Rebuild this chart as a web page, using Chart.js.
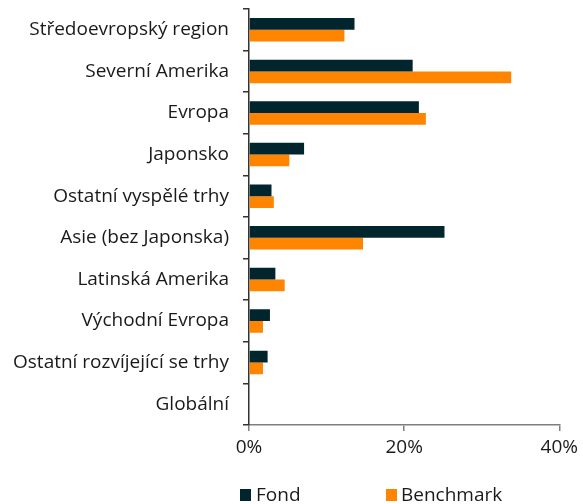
<!DOCTYPE html>
<html>
<head>
<meta charset="utf-8">
<script src="https://cdn.jsdelivr.net/npm/chart.js@4/dist/chart.umd.min.js"></script>
<style>
  html, body { margin: 0; padding: 0; background: #fff; }
  #wrap { position: relative; width: 583px; height: 504px; }
  #legend { position: absolute; left: 0; top: 0; width: 583px; height: 504px; pointer-events: none;
            font-family: "Open Sans", sans-serif; font-size: 19px; color: #1a1a1a; }
  .box { position: absolute; width: 11px; height: 12px; }
  .lbl { position: absolute; line-height: 20px; }
</style>
</head>
<body>
<div id="wrap">
  <canvas id="c" width="583" height="504"></canvas>
  <div id="legend"></div>
</div>
<script>
const categories = [
  "Středoevropský region",
  "Severní Amerika",
  "Evropa",
  "Japonsko",
  "Ostatní vyspělé trhy",
  "Asie (bez Japonska)",
  "Latinská Amerika",
  "Východní Evropa",
  "Ostatní rozvíjející se trhy",
  "Globální"
];
const fondValues = [13.6, 21.1, 21.9, 7.1, 2.9, 25.2, 3.4, 2.7, 2.4, 0];
const benchmarkValues = [12.3, 33.8, 22.8, 5.2, 3.2, 14.7, 4.6, 1.8, 1.8, 0];
const seriesNames = ["Fond", "Benchmark"];
const seriesColors = ["#00252d", "#ff8400"];
const xTicks = [0, 20, 40];

const FONT = "Open Sans";
const FSIZE = 19;

const chart = new Chart(document.getElementById("c"), {
  type: "bar",
  data: {
    labels: categories,
    datasets: [
      { label: seriesNames[0], data: fondValues, backgroundColor: seriesColors[0],
        categoryPercentage: 0.565, barPercentage: 1.0 },
      { label: seriesNames[1], data: benchmarkValues, backgroundColor: seriesColors[1],
        categoryPercentage: 0.565, barPercentage: 1.0 }
    ]
  },
  options: {
    indexAxis: "y",
    responsive: false,
    animation: false,
    layout: { padding: { top: 9, right: 5, bottom: 0, left: 0 } },
    plugins: { legend: { display: false }, tooltip: { enabled: false } },
    scales: {
      x: {
        min: 0, max: 40,
        afterBuildTicks: (s) => { s.ticks = xTicks.map(v => ({ value: v })); },
        afterFit: (s) => { s.height = 79; },
        border: { display: true, color: "#7f7f7f", width: 1.5 },
        grid: { drawOnChartArea: false, drawTicks: true, tickLength: 6, color: "#7f7f7f", lineWidth: 1.5 },
        ticks: { padding: 5, color: "#1a1a1a", font: { family: FONT, size: FSIZE },
                 callback: (v) => v + "%", maxRotation: 0 }
      },
      y: {
        afterFit: (s) => { s.width = 249; s.paddingTop = 0; s.paddingBottom = 0; },
        border: { display: true, color: "#333333", width: 1.5 },
        grid: { drawOnChartArea: false, drawTicks: true, tickLength: 6, color: "#333333", lineWidth: 1.5, offset: true },
        ticks: { padding: 14, color: "#1a1a1a", font: { family: FONT, size: FSIZE } }
      }
    }
  }
});

// Legend (HTML)
const legend = document.getElementById("legend");
const legendPos = [{ box: 240, text: 256 }, { box: 386, text: 401 }];
seriesNames.forEach((name, i) => {
  const b = document.createElement("div");
  b.className = "box";
  b.style.left = legendPos[i].box + "px";
  b.style.top = "489px";
  b.style.background = seriesColors[i];
  legend.appendChild(b);
  const t = document.createElement("div");
  t.className = "lbl";
  t.style.left = legendPos[i].text + "px";
  t.style.top = "484px";
  t.textContent = name;
  legend.appendChild(t);
});
</script>
</body>
</html>
